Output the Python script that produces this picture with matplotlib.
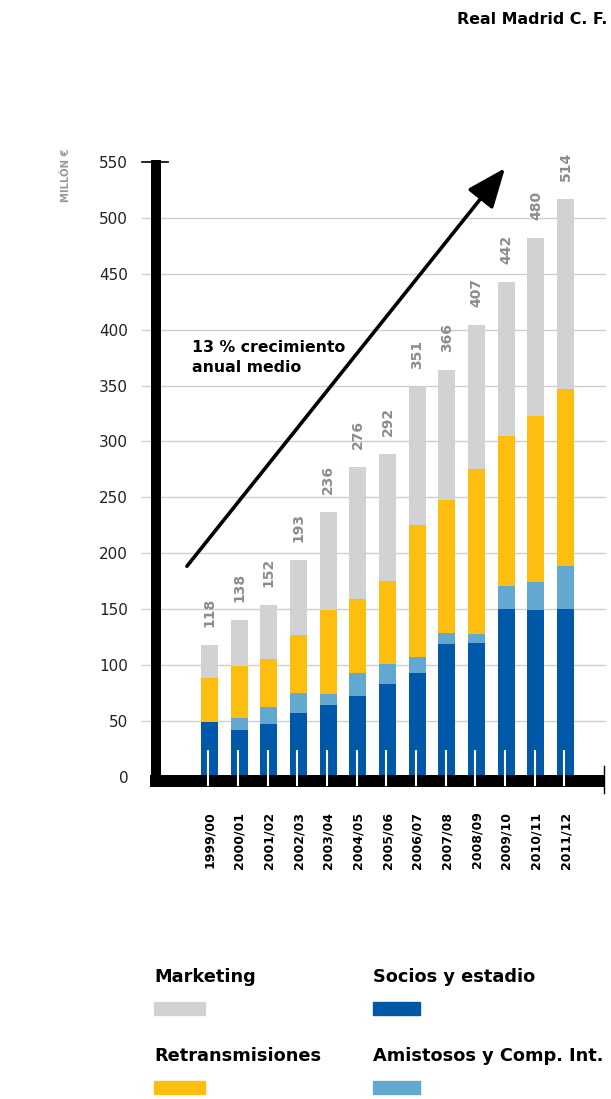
import matplotlib
matplotlib.use("Agg")
import matplotlib.pyplot as plt
from matplotlib.patches import Rectangle
import numpy as np

plt.rcParams["font.family"] = ["DejaVu Sans"]

seasons = ["1999/00", "2000/01", "2001/02", "2002/03", "2003/04", "2004/05", "2005/06",
           "2006/07", "2007/08", "2008/09", "2009/10", "2010/11", "2011/12"]
totals = [118, 138, 152, 193, 236, 276, 292, 351, 366, 407, 442, 480, 514]

# stacked segments in millions of euros
socios = np.array([49, 42, 47, 57, 64, 72, 83, 93, 119, 120, 150, 149, 150])
amistosos = np.array([0, 11, 15, 18, 10, 21, 18, 14, 10, 8, 21, 25, 39])
retrans = np.array([39, 46, 43, 52, 75, 66, 74, 118, 119, 147, 134, 149, 158])
marketing = np.array([30, 41, 49, 67, 88, 118, 114, 124, 116, 129, 138, 159, 170])

c_mkt = "#d1d2d4"
c_soc = "#0058a8"
c_ret = "#fdbe10"
c_ami = "#62a8d0"

fig = plt.figure(figsize=(6.11, 10.99), dpi=100)
ax = fig.add_axes([156 / 611, 1 - 781 / 1099, 448 / 611, 619 / 1099])

x = np.arange(len(seasons))
w = 0.573
ax.bar(x, socios, w, color=c_soc, zorder=1)
ax.bar(x, amistosos, w, bottom=socios, color=c_ami, zorder=1)
ax.bar(x, retrans, w, bottom=socios + amistosos, color=c_ret, zorder=1)
ax.bar(x, marketing, w, bottom=socios + amistosos + retrans, color=c_mkt, zorder=1)

tops = socios + amistosos + retrans + marketing
for xi, top, lab in zip(x, tops, totals):
    ax.annotate(str(lab), (xi, top), xytext=(0, 13), textcoords="offset points",
                rotation=90, ha="center", va="bottom", fontsize=10,
                fontweight="bold", color="#8c8c8c")

ax.set_xlim(-1.803, 13.296)
ax.set_ylim(-3.8, 550)

# gridlines, running a bit left of the axis
yt = np.arange(50, 550, 50)
for y in yt:
    ax.plot([-0.031, 1.002], [y, y], transform=ax.get_yaxis_transform(),
            color="#cfcfcf", lw=1, zorder=0, clip_on=False)
ax.plot([-0.031, 0.027], [550, 550], transform=ax.get_yaxis_transform(),
        color="black", lw=1.2, zorder=3, clip_on=False)

for s in ax.spines.values():
    s.set_visible(False)

# thick axis lines
ax.plot([0, 0], [-0.0097, 1.003], transform=ax.transAxes, color="black",
        lw=7.2, solid_capstyle="butt", clip_on=False, zorder=2.5)
ax.plot([-0.0134, 1.0], [0, 0], transform=ax.transAxes, color="black",
        lw=8.64, solid_capstyle="butt", clip_on=False, zorder=2.5)
ax.plot([1.0, 1.0], [-0.019, 0.024], transform=ax.transAxes, color="black",
        lw=1, clip_on=False, zorder=2.5)

# white tick marks at each bar
ax.vlines(x - 0.04, -8.5, 24, color="white", lw=1.5, zorder=4, clip_on=False)

ax.set_yticks(np.arange(0, 551, 50))
ax.tick_params(axis="y", length=0, pad=20, labelsize=11, labelcolor="#222222")
ax.set_xticks(x, seasons, rotation=90, fontsize=9, fontweight="bold")
ax.tick_params(axis="x", length=0, pad=22)

# growth arrow and note
ax.annotate("", xy=(0.779, 0.990), xytext=(0.069, 0.347), xycoords="axes fraction",
            arrowprops=dict(arrowstyle="-|>,head_length=1.1,head_width=0.45",
                            mutation_scale=22, lw=2.6, color="black",
                            shrinkA=0, shrinkB=0))
ax.text(0.0797, (781 - 340) / 619, "13 % crecimiento\nanual medio",
        transform=ax.transAxes, ha="left", va="top", fontsize=11.3,
        fontweight="bold", linespacing=1.4)

fig.text(66 / 611, 1 - 148 / 1099, "MILLÓN €", rotation=90, ha="center", va="top",
         fontsize=7.3, fontweight="bold", color="#999999")
fig.text(607 / 611, 1 - 24 / 1099, "Real Madrid C. F.", ha="right", va="baseline",
         fontsize=11.4, fontweight="bold")

# legend: label above a colour swatch
legend_names = ["Marketing", "Socios y estadio", "Retransmisiones", "Amistosos y Comp. Int."]
legend_colors = [c_mkt, c_soc, c_ret, c_ami]
legend_pos = [(154, 982), (373, 982), (154, 1061), (373, 1061)]
swatch_w = [51, 47, 51, 47]
for name, col, (px, py), sw in zip(legend_names, legend_colors, legend_pos, swatch_w):
    fig.text(px / 611, 1 - py / 1099, name, ha="left", va="baseline",
             fontsize=12.8, fontweight="bold")
    fig.patches.append(Rectangle((px / 611, 1 - (py + 33) / 1099), sw / 611, 13 / 1099,
                                 transform=fig.transFigure, color=col))

fig.savefig("out.png", dpi=100)
